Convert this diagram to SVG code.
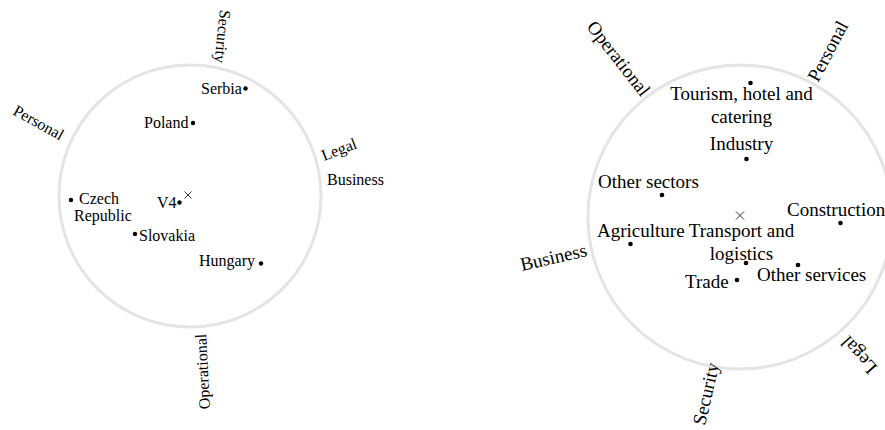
<svg xmlns="http://www.w3.org/2000/svg" width="885" height="430" viewBox="0 0 885 430">
<style>
.ring{fill:none;stroke:#e4e4e4;stroke-width:3}
text{font-family:"Liberation Serif","Times New Roman",serif;fill:#000}
.s{font-size:16px}
.b{font-size:19px}
.dot{fill:#000}
.x{stroke:#333;stroke-width:1;fill:none}
</style>
<rect width="885" height="430" fill="#fff"/>
<g id="chart-left">
<circle class="ring" cx="190" cy="196" r="131"/>
<path class="x" d="M184.5 191.5l7 7M191.5 191.5l-7 7"/>
<g id="axis-security-l"><text class="s" transform="translate(220,9.5) rotate(96)">Security</text></g>
<g id="axis-personal-l"><text class="s" transform="translate(12,114) rotate(29)">Personal</text></g>
<g id="axis-legal-l"><text class="s" transform="translate(324,161) rotate(-21)">Legal</text></g>
<g id="axis-business-l"><text class="s" x="327" y="185">Business</text></g>
<g id="axis-operational-l"><text class="s" transform="translate(210,409) rotate(-93)">Operational</text></g>
<g id="pt-serbia"><circle class="dot" cx="245.5" cy="88.5" r="2.2"/><text class="s" x="201" y="93.5">Serbia</text></g>
<g id="pt-poland"><circle class="dot" cx="193" cy="123" r="2.2"/><text class="s" x="144" y="127.5">Poland</text></g>
<g id="pt-czech"><circle class="dot" cx="71" cy="200" r="2.2"/><text class="s" x="79" y="204">Czech</text><text class="s" x="74" y="220.5">Republic</text></g>
<g id="pt-v4"><circle class="dot" cx="179.5" cy="202.5" r="2.2"/><text class="s" x="157" y="208">V4</text></g>
<g id="pt-slovakia"><circle class="dot" cx="135" cy="234" r="2.2"/><text class="s" x="139" y="240.5">Slovakia</text></g>
<g id="pt-hungary"><circle class="dot" cx="261" cy="263.5" r="2.2"/><text class="s" x="199" y="265.5">Hungary</text></g>
</g>
<g id="chart-right">
<circle class="ring" cx="740" cy="217" r="152"/>
<path class="x" d="M736 211.5l8 8M744 211.5l-8 8"/>
<g id="axis-operational-r"><text class="b" transform="translate(586,27) rotate(52)">Operational</text></g>
<g id="axis-personal-r"><text class="b" transform="translate(818,83) rotate(-62)">Personal</text></g>
<g id="axis-business-r"><text class="b" transform="translate(522,271) rotate(-13)">Business</text></g>
<g id="axis-security-r"><text class="b" transform="translate(705,426) rotate(-77)">Security</text></g>
<g id="axis-legal-r"><text class="b" transform="translate(878,367) rotate(-132)">Legal</text></g>
<g id="pt-tourism"><circle class="dot" cx="750.5" cy="83" r="2.3"/><text class="b" x="741.5" y="100" text-anchor="middle">Tourism, hotel and</text><text class="b" x="741.5" y="123" text-anchor="middle">catering</text></g>
<g id="pt-industry"><circle class="dot" cx="746.5" cy="159" r="2.3"/><text class="b" x="741.5" y="150" text-anchor="middle">Industry</text></g>
<g id="pt-other-sectors"><circle class="dot" cx="662" cy="195" r="2.3"/><text class="b" x="598" y="188">Other sectors</text></g>
<g id="pt-construction"><circle class="dot" cx="840.5" cy="223" r="2.3"/><text class="b" x="787" y="216">Construction</text></g>
<g id="pt-agriculture"><circle class="dot" cx="630.5" cy="244" r="2.3"/><text class="b" x="597" y="237">Agriculture</text></g>
<g id="pt-transport"><circle class="dot" cx="746" cy="263" r="2.3"/><text class="b" x="741.5" y="237" text-anchor="middle">Transport and</text><text class="b" x="741.5" y="260" text-anchor="middle">logistics</text></g>
<g id="pt-other-services"><circle class="dot" cx="798" cy="265" r="2.3"/><text class="b" x="757" y="281">Other services</text></g>
<g id="pt-trade"><circle class="dot" cx="737" cy="280" r="2.3"/><text class="b" x="685" y="288">Trade</text></g>
</g>
</svg>
